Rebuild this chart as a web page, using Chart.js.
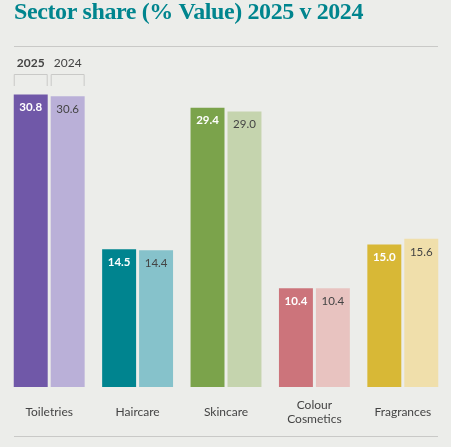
<!DOCTYPE html>
<html>
<head>
<meta charset="utf-8">
<script src="https://cdn.jsdelivr.net/npm/chart.js@4"></script>
<style>
  html, body { margin: 0; padding: 0; background: #ecedea; }
  #wrap { width: 451px; height: 447px; position: relative; }
</style>
</head>
<body>
<div id="wrap"><canvas id="chart"></canvas></div>
<script>
const titleText = "Sector share (% Value) 2025 v 2024";
const categories = ["Toiletries", "Haircare", "Skincare", ["Colour", "Cosmetics"], "Fragrances"];
const seriesLabels = ["2025", "2024"];
const values2025 = [30.8, 14.5, 29.4, 10.4, 15.0];
const values2024 = [30.6, 14.4, 29.0, 10.4, 15.6];
const colors2025 = ["#7058a8", "#00848f", "#7ba34b", "#cc747b", "#d8b836"];
const colors2024 = ["#bab0d8", "#86c2cb", "#c5d4ae", "#e8c3c0", "#f0dfab"];

const teal = "#00858e";
const textGrey = "#444444";
const lineGrey = "#c9c9c7";

// titre, lignes, légende et valeurs
const decor = {
  id: "decor",
  afterDatasetsDraw(chart) {
    const ctx = chart.ctx;
    ctx.save();

    // titre
    ctx.fillStyle = teal;
    ctx.font = "bold 24px 'Liberation Serif'";
    ctx.textAlign = "left";
    ctx.textBaseline = "alphabetic";
    ctx.letterSpacing = "-0.4px";
    ctx.fillText(titleText, 14, 19);
    ctx.letterSpacing = "0px";

    // lignes haut / bas
    ctx.strokeStyle = lineGrey;
    ctx.lineWidth = 1;
    ctx.beginPath();
    ctx.moveTo(14, 46.5); ctx.lineTo(438, 46.5);
    ctx.moveTo(14, 436.5); ctx.lineTo(438, 436.5);
    ctx.stroke();

    // légende au-dessus du premier groupe
    chart.data.datasets.forEach((ds, di) => {
      const bar = chart.getDatasetMeta(di).data[0];
      const half = bar.width / 2;
      ctx.fillStyle = textGrey;
      ctx.font = (di === 0 ? "bold " : "") + "12px Lato";
      ctx.textAlign = "center";
      ctx.textBaseline = "middle";
      ctx.fillText(seriesLabels[di], bar.x, 63);
      ctx.strokeStyle = lineGrey;
      ctx.beginPath();
      ctx.moveTo(bar.x - half + 0.5, 86);
      ctx.lineTo(bar.x - half + 0.5, 74.5);
      ctx.lineTo(bar.x + half - 0.5, 74.5);
      ctx.lineTo(bar.x + half - 0.5, 86);
      ctx.stroke();
    });

    // valeurs dans les barres
    chart.data.datasets.forEach((ds, di) => {
      chart.getDatasetMeta(di).data.forEach((bar, i) => {
        ctx.fillStyle = di === 0 ? "#ffffff" : textGrey;
        ctx.font = (di === 0 ? "bold " : "") + "11.5px Lato";
        ctx.textAlign = "center";
        ctx.textBaseline = "middle";
        ctx.fillText(ds.data[i].toFixed(1), bar.x, bar.y + 13);
      });
    });
    ctx.restore();
  }
};

new Chart(document.getElementById("chart"), {
  type: "bar",
  data: {
    labels: categories,
    datasets: [
      { label: seriesLabels[0], data: values2025, backgroundColor: colors2025 },
      { label: seriesLabels[1], data: values2024, backgroundColor: colors2024 }
    ]
  },
  options: {
    responsive: true,
    maintainAspectRatio: false,
    animation: false,
    categoryPercentage: 0.836,
    barPercentage: 0.919,
    layout: { padding: { top: 54.5, bottom: 10, left: 5, right: 4 } },
    plugins: { legend: { display: false }, tooltip: { enabled: false } },
    scales: {
      y: { display: false, min: 0, max: 35 },
      x: {
        grid: { display: false, drawTicks: false },
        border: { display: false },
        afterFit: (s) => { s.height = 50; },
        ticks: {
          color: textGrey,
          font: { family: "Lato", size: 12, lineHeight: 1.2 },
          padding: 18,
          crossAlign: "center",
          maxRotation: 0,
          autoSkip: false
        }
      }
    }
  },
  plugins: [decor]
});
</script>
</body>
</html>
